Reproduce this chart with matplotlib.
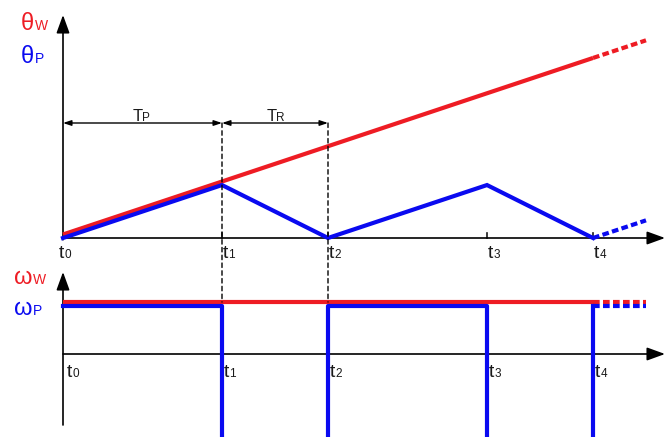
import matplotlib
matplotlib.use("Agg")
import matplotlib.pyplot as plt
from matplotlib.patches import ConnectionPatch

plt.rcParams['font.family'] = ['Liberation Sans', 'DejaVu Sans']

# time instants t0..t4 (TP = 1.5, TR = 1.0)
t_ticks = [0, 1.5, 2.5, 4, 5]
tick_subs = ['0', '1', '2', '3', '4']
t_ext = [5, 5.5]

# wheel angle / pawl angle
theta_w_t = [0, 5]
theta_w = [0.1, 5.1]
theta_w_ext = [5.1, 5.6]
theta_p = [0, 1.5, 0, 1.5, 0]
theta_p_ext = [0, 0.5]

# angular speeds
omega_w = [1.0, 1.0]
omega_p = [0.92, -2.0, 0.92, -2.0, 0.92]
omega_p_ext = [0.92, 0.92]

RED = '#ee1c24'
BLUE = '#0a0af0'
INK = '#1a1a1a'

W, H = 667, 437
fig = plt.figure(figsize=(W / 100, H / 100), dpi=100)
renderer = fig.canvas.get_renderer()

px_t = 106.0     # pixels per time unit
px_th = 35.3     # pixels per theta unit
px_om = 52.0     # pixels per omega unit
xlim = (-63 / px_t, (W - 63) / px_t)

ax1 = fig.add_axes([0, 1 - 262 / H, 1, 262 / H])
ax1.set_xlim(*xlim)
ax1.set_ylim((238 - 262) / px_th, 238 / px_th)
ax1.axis('off')

ax2 = fig.add_axes([0, 0, 1, 175 / H])
ax2.set_xlim(*xlim)
ax2.set_ylim(-83 / px_om, 92 / px_om)
ax2.axis('off')

x_tip = (665 - 63) / px_t
head = dict(arrowstyle='-|>,head_length=0.55,head_width=0.2', color='black',
            lw=1.2, mutation_scale=20, shrinkA=0, shrinkB=0)

# axes with arrows
ax1.annotate('', xy=(x_tip, 0), xytext=(0, 0), arrowprops=head, annotation_clip=False)
ax1.annotate('', xy=(0, (238 - 15) / px_th), xytext=(0, -0.05), arrowprops=head,
             annotation_clip=False)
ax2.annotate('', xy=(x_tip, 0), xytext=(0, 0), arrowprops=head, annotation_clip=False)
ax2.annotate('', xy=(0, (354 - 272) / px_om), xytext=(0, (354 - 425) / px_om),
             arrowprops=head, annotation_clip=False)

# small ticks on upper time axis
for t in t_ticks[1:]:
    ax1.plot([t, t], [0, 0.15], color=INK, lw=1.2)

# curves, upper panel
ax1.plot(theta_w_t, theta_w, color=RED, lw=3, solid_capstyle='butt', zorder=3)
ax1.plot(t_ext, theta_w_ext, color=RED, lw=3, dashes=(1.6, 0.8), zorder=3)
ax1.plot(t_ticks, theta_p, color=BLUE, lw=3, solid_joinstyle='miter', zorder=4)
ax1.plot(t_ext, theta_p_ext, color=BLUE, lw=3, dashes=(1.6, 0.8), zorder=4)

# curves, lower panel
ax2.plot([t_ticks[0], t_ticks[-1]], omega_w, color=RED, lw=3, solid_capstyle='butt', zorder=3)
ax2.plot(t_ext, omega_w, color=RED, lw=3, dashes=(1.6, 0.8), zorder=3)
ax2.plot(t_ticks, omega_p, color=BLUE, lw=3, drawstyle='steps-post', zorder=4)
ax2.plot(t_ext, omega_p_ext, color=BLUE, lw=3, dashes=(1.6, 0.8), zorder=4)

# TP / TR dimension arrows
y_dim = (238 - 123) / px_th
dim = dict(arrowstyle='<|-|>,head_length=0.6,head_width=0.2', color='black', lw=1,
           mutation_scale=8, shrinkA=0, shrinkB=0)
ax1.annotate('', xy=(t_ticks[0], y_dim), xytext=(t_ticks[1], y_dim), arrowprops=dim)
ax1.annotate('', xy=(t_ticks[1], y_dim), xytext=(t_ticks[2], y_dim), arrowprops=dim)

# dashed guides at t1, t2 crossing both panels
for t in t_ticks[1:3]:
    con = ConnectionPatch(xyA=(t, y_dim), coordsA=ax1.transData,
                          xyB=(t, omega_w[0]), coordsB=ax2.transData,
                          color='black', lw=1, linestyle=(0, (3.2, 2.4)))
    fig.add_artist(con)


def sub_label(x, y, main, sub, color, s_main, s_sub, dx=0, dy=0, kern=0, trans=None):
    # main letter followed directly by a smaller letter on the same baseline
    m = plt.annotate(main, (x, y), xycoords=trans, xytext=(dx, dy),
                     textcoords='offset pixels', color=color, fontsize=s_main,
                     ha='left', va='baseline', annotation_clip=False)
    w = m.get_window_extent(renderer).width
    plt.annotate(sub, (x, y), xycoords=trans, xytext=(dx + w + kern, dy),
                 textcoords='offset pixels', color=color, fontsize=s_sub,
                 ha='left', va='baseline', annotation_clip=False)


sub_label(0, y_dim, 'T', 'P', INK, 12, 8.5, dx=(133 - 63), dy=2, kern=-1,
          trans=ax1.transData)
sub_label(t_ticks[1], y_dim, 'T', 'R', INK, 12, 8.5, dx=(267 - 222), dy=2, kern=-1,
          trans=ax1.transData)

# tick labels
y_top = (238 - 258) / px_th
y_bot = (354 - 377) / px_om
for i, (t, s) in enumerate(zip(t_ticks, tick_subs)):
    sub_label(t, y_top, 't', s, INK, 14, 8.5, dx=-4 if i == 0 else 1, trans=ax1.transData)
    sub_label(t, y_bot, 't', s, INK, 14, 8.5, dx=4 if i == 0 else 2, trans=ax2.transData)

# axis names
fig_px = fig.transFigure
sub_label(21 / W, 1 - 30 / H, 'θ', 'W', RED, 17, 10, kern=1, trans=fig_px)
sub_label(21 / W, 1 - 63 / H, 'θ', 'P', BLUE, 17, 10, kern=1, trans=fig_px)
sub_label(14 / W, 1 - 284 / H, 'ω', 'W', RED, 17, 10, kern=0, trans=fig_px)
sub_label(14 / W, 1 - 315 / H, 'ω', 'P', BLUE, 17, 10, kern=0, trans=fig_px)

fig.savefig('out.png', dpi=100)
